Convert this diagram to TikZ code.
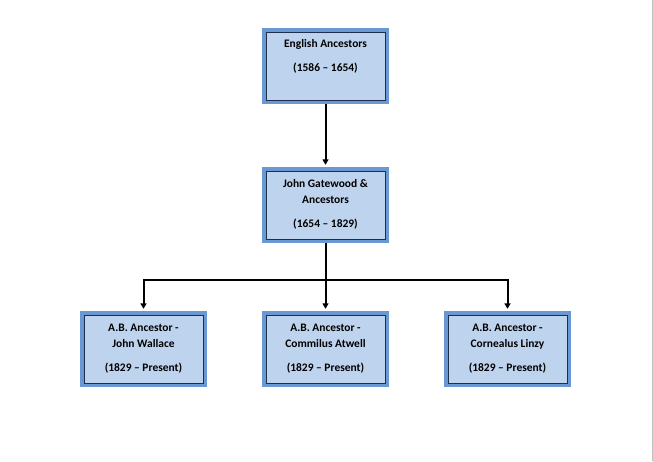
\documentclass[tikz,border=0pt]{standalone}
\usepackage{fontspec}
\setmainfont{Carlito}
\usetikzlibrary{arrows.meta}
\definecolor{bandblue}{HTML}{6A98D2}
\definecolor{fillblue}{HTML}{BED4EE}
\definecolor{navy}{HTML}{1F2D4D}
\definecolor{edgegray}{HTML}{C0C0C0}
\tikzset{
  outerbox/.style={rectangle, fill=bandblue, draw=none, minimum width=95.25pt, minimum height=57pt, inner sep=0pt},
  innerbox/.style={rectangle, fill=fillblue, draw=navy, line width=0.75pt, minimum width=89.25pt, minimum height=51pt, inner sep=0pt},
  boxtext/.style={font=\fontsize{8.6}{12}\selectfont\bfseries, align=center, anchor=north, inner sep=0pt},
  conn/.style={draw=black, line width=1.5pt},
  connarrow/.style={conn, -{Triangle[width=4.5pt,length=4pt]}, shorten >=1.5pt}
}
\begin{document}
\begin{tikzpicture}[x=0.75pt,y=-0.75pt]
\useasboundingbox (0,0) rectangle (653,461);
\fill[white] (0,0) rectangle (653,461);
\draw[edgegray, line width=0.75pt] (652,0) -- (652,461);

% boxes
\node[outerbox] (o1) at (325.5,66) {};
\node[innerbox] (b1) at (o1.center) {};
\node[boxtext] (t1) at (325.5,39.5) {English Ancestors\\[6pt](1586 – 1654)};

\node[outerbox] (o2) at (325.5,205) {};
\node[innerbox] (b2) at (o2.center) {};
\node[boxtext] (t2) at (325.5,179.5) {John Gatewood \&\\Ancestors\\[6pt](1654 – 1829)};

\node[outerbox] (o3) at (143.5,349) {};
\node[innerbox] (b3) at (o3.center) {};
\node[boxtext] (t3) at (143.5,323.5) {A.B. Ancestor -\\John Wallace\\[6pt](1829 – Present)};

\node[outerbox] (o4) at (325.5,349) {};
\node[innerbox] (b4) at (o4.center) {};
\node[boxtext] (t4) at (325.5,323.5) {A.B. Ancestor -\\Commilus Atwell\\[6pt](1829 – Present)};

\node[outerbox] (o5) at (507.5,349) {};
\node[innerbox] (b5) at (o5.center) {};
\node[boxtext] (t5) at (507.5,323.5) {A.B. Ancestor -\\Cornealus Linzy\\[6pt](1829 – Present)};

% connectors
\coordinate (j) at (325.5,279.5);
\draw[connarrow] (o1.south) -- (o2.north);
\draw[conn] (o2.south) -- (j);
\draw[connarrow] (j) -| (o3.north);
\draw[connarrow] (j) -- (o4.north);
\draw[connarrow] (j) -| (o5.north);
\end{tikzpicture}
\end{document}
